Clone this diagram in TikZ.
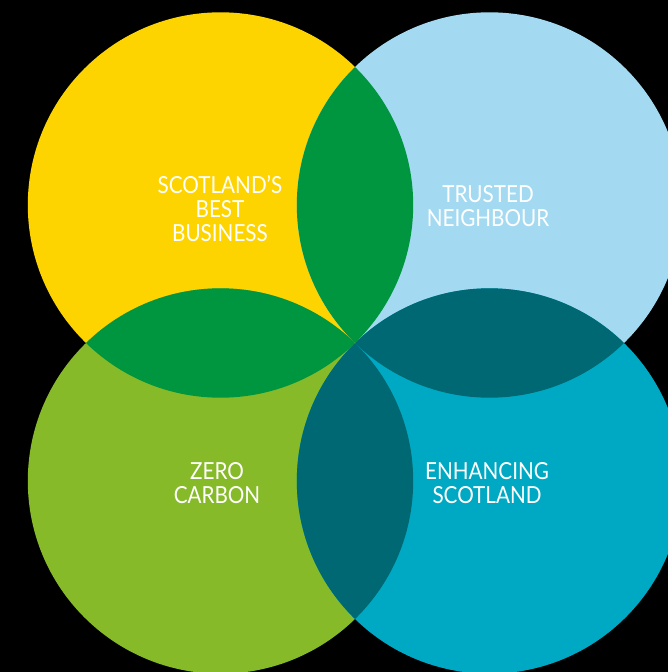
\documentclass[tikz,border=0pt]{standalone}
\usepackage{fontspec}
\setmainfont{Lato}[FakeStretch=0.88]
\definecolor{cyellow}{HTML}{FDD400}
\definecolor{cblue}{HTML}{A4DAF1}
\definecolor{clime}{HTML}{86BA29}
\definecolor{cteal}{HTML}{00A9C3}
\definecolor{cdgreen}{HTML}{00953F}
\definecolor{cdteal}{HTML}{006873}
\begin{document}
\begin{tikzpicture}[x=1pt,y=-1pt,
  lbl/.style={text=white,align=center,inner sep=0pt,font=\fontsize{23.5}{24}\selectfont}]
\useasboundingbox (0,0) rectangle (668,672);
\fill[black] (0,0) rectangle (668,672);
\def\R{192.7pt}
\coordinate (cy) at (220.5,205);
\coordinate (cb) at (489.5,205);
\coordinate (cg) at (220.5,481);
\coordinate (ct) at (489.5,481);
\begin{scope}
\clip (0,0) rectangle (668,672);
\fill[cyellow] (cy) circle[radius=\R];
\fill[cblue] (cb) circle[radius=\R];
\fill[clime] (cg) circle[radius=\R];
\fill[cteal] (ct) circle[radius=\R];
\begin{scope}
\clip (cy) circle[radius=\R];
\fill[cdgreen] (cb) circle[radius=\R];
\fill[cdgreen] (cg) circle[radius=\R];
\end{scope}
\begin{scope}
\clip (ct) circle[radius=\R];
\fill[cdteal] (cb) circle[radius=\R];
\fill[cdteal] (cg) circle[radius=\R];
\end{scope}
\end{scope}
\node[lbl] (t1) at (220,208.5) {SCOTLAND’S\\BEST\\BUSINESS};
\node[lbl] (t2) at (488,206.5) {TRUSTED\\NEIGHBOUR};
\node[lbl] (t3) at (217,483.5) {ZERO\\CARBON};
\node[lbl] (t4) at (487,483.5) {ENHANCING\\SCOTLAND};
\end{tikzpicture}
\end{document}
